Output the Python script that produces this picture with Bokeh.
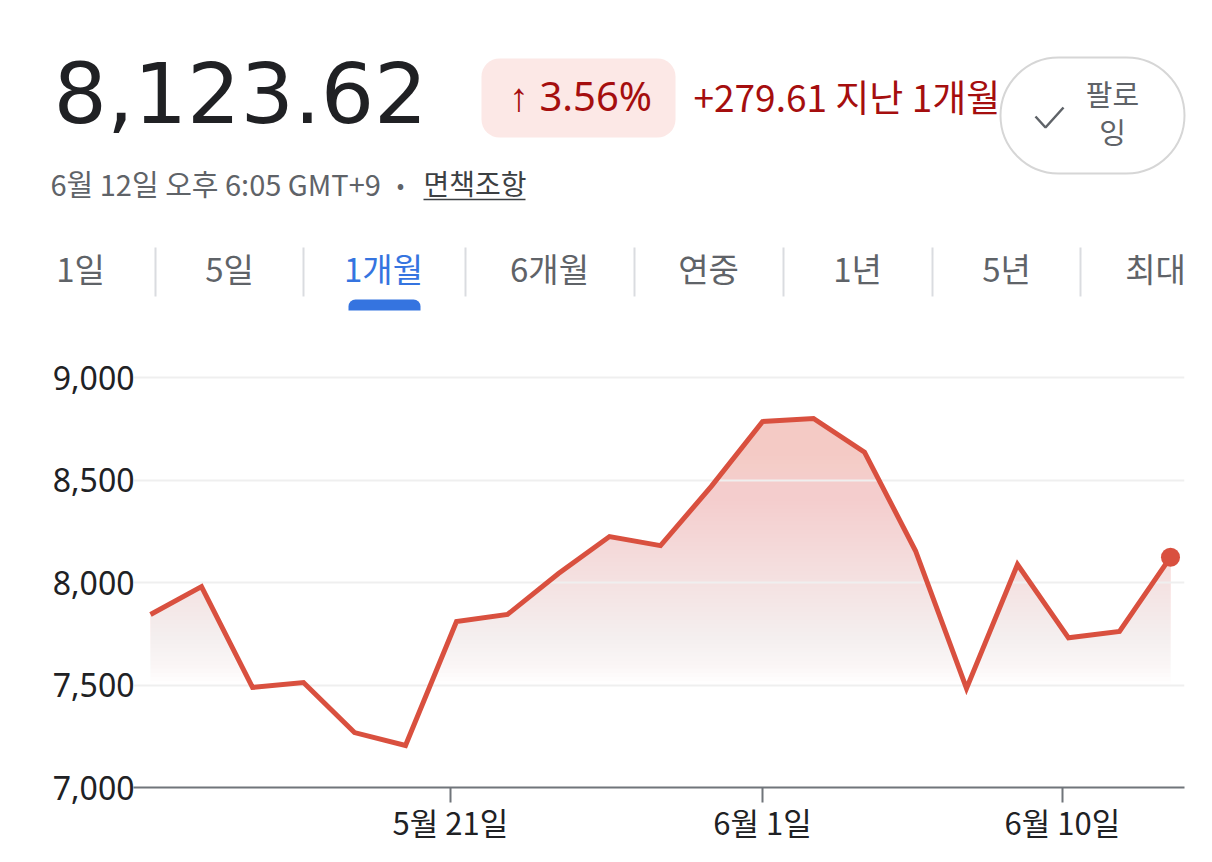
import numpy as np
from bokeh.plotting import figure
from bokeh.models import Range1d, FixedTicker, NumeralTickFormatter
from bokeh.core.properties import value
from bokeh.embed import file_html
from bokeh.resources import INLINE

# ---------------- data ----------------
prices = [7844.01, 7980, 7488, 7512, 7268, 7205, 7810, 7844, 8044, 8224, 8180,
          8470, 8785, 8800, 8636, 8155, 7483, 8088, 7730, 7761, 8123.62]
y_ticks = [7000, 7500, 8000, 8500, 9000]
grid_vals = [7500, 8000, 8500, 9000]
x_tick_pos = [5.88, 12.0, 17.88]
x_tick_labels = ["5월 21일", "6월 1일", "6월 10일"]

last_price_text = "8,123.62"
change_pct_text = "↑ 3.56%"
change_text = "+279.61 지난 1개월"
timestamp_text = "6월 12일 오후 6:05 GMT+9"
disclaimer_text = "면책조항"
follow_lines = ["팔로", "잉"]
tabs = ["1일", "5일", "1개월", "6개월", "연중", "1년", "5년", "최대"]
active_tab = "1개월"

# ---------------- style ----------------
KR = "Noto Sans CJK KR"
RED = "#d9503f"
DARK_RED = "#a50e0e"
GRAY = "#5f6368"
TXT = "#202124"
BLUE = "#3574e0"
W, HH, CH = 1212, 338, 520

# ---------------- header (page pixel coordinates) ----------------
hdr = figure(width=W, height=HH, x_range=Range1d(0, W), y_range=Range1d(HH, 0),
             output_backend="svg", toolbar_location=None,
             x_axis_location=None, y_axis_location=None, min_border=0,
             outline_line_color=None)
for g in hdr.grid:
    g.visible = False

hdr.text(x=[53], y=[91], text=[last_price_text], text_font=value("DejaVu Sans"),
         text_font_size=value("84px"), text_color=TXT,
         text_baseline="middle", text_align="left")

hdr.quad(left=[481], right=[675], top=[58], bottom=[137], fill_color="#fce8e6",
         line_color=None, border_radius=18)
hdr.text(x=[580], y=[95], text=[change_pct_text], text_font=value("Noto Sans"),
         text_font_size=value("40px"), text_color=DARK_RED,
         text_baseline="middle", text_align="center")
hdr.text(x=[693], y=[95], text=[change_text], text_font=value(KR),
         text_font_size=value("37px"), text_color=DARK_RED,
         text_baseline="middle", text_align="left")

# follow button
hdr.quad(left=[1000], right=[1184], top=[57], bottom=[173], fill_color="white",
         line_color="#d6d6d6", line_width=2, border_radius=58)
hdr.line(x=[1035, 1045, 1063], y=[116, 127, 107], line_color=GRAY, line_width=2.5)
hdr.text(x=[1112, 1112], y=[92, 130], text=follow_lines, text_font=value(KR),
         text_font_size=value("29px"), text_color=GRAY,
         text_baseline="middle", text_align="center")

# timestamp line
hdr.text(x=[50], y=[182], text=[timestamp_text], text_font=value(KR),
         text_font_size=value("29px"), text_color=GRAY,
         text_baseline="middle", text_align="left")
hdr.text(x=[400], y=[182], text=["•"], text_font=value(KR),
         text_font_size=value("22px"), text_color=GRAY,
         text_baseline="middle", text_align="center")
hdr.text(x=[423], y=[182], text=[disclaimer_text], text_font=value(KR),
         text_font_size=value("28px"), text_color="#3c4043",
         text_baseline="middle", text_align="left")
hdr.segment(x0=[423], y0=[199], x1=[525], y1=[199], line_color="#3c4043", line_width=1.5)

# tabs
tab_x = [80, 229, 383, 549, 708, 857, 1006, 1155]
sep_x = [155, 303, 465, 634, 783, 932, 1080]
tab_colors = [BLUE if t == active_tab else GRAY for t in tabs]
hdr.text(x=tab_x, y=[267] * len(tabs), text=tabs, text_font=value(KR),
         text_font_size=value("33px"), text_color=tab_colors,
         text_baseline="middle", text_align="center")
hdr.segment(x0=sep_x, y0=[247] * len(sep_x), x1=sep_x, y1=[296] * len(sep_x),
            line_color="#dadce0", line_width=2)
hdr.quad(left=[348], right=[420], top=[299], bottom=[310], fill_color=BLUE,
         line_color=None,
         border_radius=dict(top_left=7, top_right=7, bottom_right=0, bottom_left=0))

# ---------------- chart ----------------
n = len(prices)
idx = np.arange(n)
ch = figure(width=W, height=CH,
            x_range=Range1d(-17 / 51, (n - 1) + 14 / 51),
            y_range=Range1d(7000, 9083),
            output_backend="svg", toolbar_location=None,
            min_border_left=133, min_border_right=28,
            min_border_top=22, min_border_bottom=71,
            outline_line_color=None)
ch.grid.visible = False

# area fill with vertical gradient (red fill, faded by nested white overlays)
ch.varea(x=idx, y1=7000, y2=prices, fill_color=RED, fill_alpha=0.3)
g_top, g_bot, step = 8800.0, 7500.0, 20.0
tops = np.arange(g_top, 7000, -step)
alphas = []
r_prev = 1.0
for t in tops:
    mid = t - step / 2
    r = float(np.clip((mid - g_bot) / (g_top - g_bot), 0, 1))
    a = 1 - r / r_prev if r_prev > 0 else 0.0
    alphas.append(a)
    r_prev = r
pad = 0.06
ch.quad(left=idx[0] - pad, right=idx[-1] + pad, bottom=7000, top=tops,
        fill_color="white", fill_alpha=alphas, line_color=None)

ch.hspan(y=grid_vals, line_color="#efefef", line_width=2)
ch.line(idx, prices, line_color=RED, line_width=5, line_join="miter")
ch.scatter(x=[idx[-1]], y=[prices[-1]], size=19, fill_color=RED, line_color=None)

ch.yaxis.ticker = FixedTicker(ticks=y_ticks)
ch.yaxis.formatter = NumeralTickFormatter(format="0,0")
ch.yaxis.axis_line_color = None
ch.yaxis.major_tick_line_color = None
ch.yaxis.minor_tick_line_color = None
ch.yaxis.major_tick_out = 0
ch.yaxis.major_tick_in = 0
ch.yaxis.major_label_standoff = -1
ch.yaxis.major_label_text_font = "Noto Sans"
ch.yaxis.major_label_text_font_size = "32px"
ch.yaxis.major_label_text_color = TXT

ch.xaxis.ticker = FixedTicker(ticks=x_tick_pos)
ch.xaxis.major_label_overrides = dict(zip(x_tick_pos, x_tick_labels))
ch.xaxis.axis_line_color = "#70757a"
ch.xaxis.axis_line_width = 2
ch.xaxis.major_tick_line_color = "#70757a"
ch.xaxis.major_tick_line_width = 2
ch.xaxis.major_tick_out = 15
ch.xaxis.major_tick_in = 0
ch.xaxis.minor_tick_line_color = None
ch.xaxis.major_label_standoff = -4
ch.xaxis.major_label_text_font = KR
ch.xaxis.major_label_text_font_size = "31px"
ch.xaxis.major_label_text_color = TXT

open("out.html", "w").write(file_html([hdr, ch], INLINE))
